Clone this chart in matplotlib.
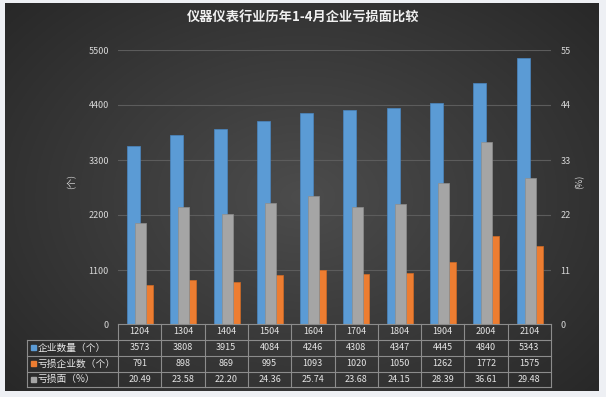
import numpy as np
import matplotlib
matplotlib.use("Agg")
import matplotlib.pyplot as plt
from matplotlib.patches import Rectangle
from matplotlib.lines import Line2D

plt.rcParams['font.family'] = ['Noto Sans CJK SC', 'DejaVu Sans']

title = "仪器仪表行业历年1-4月企业亏损面比较"
categories = ["1204", "1304", "1404", "1504", "1604", "1704", "1804", "1904", "2004", "2104"]
enterprises = [3573, 3808, 3915, 4084, 4246, 4308, 4347, 4445, 4840, 5343]
loss_enterprises = [791, 898, 869, 995, 1093, 1020, 1050, 1262, 1772, 1575]
loss_ratio = [20.49, 23.58, 22.20, 24.36, 25.74, 23.68, 24.15, 28.39, 36.61, 29.48]
ratio_labels = ["20.49", "23.58", "22.20", "24.36", "25.74", "23.68", "24.15", "28.39", "36.61", "29.48"]
series_names = ["企业数量（个）", "亏损企业数（个）", "亏损面（%）"]
left_ticks = [0, 1100, 2200, 3300, 4400, 5500]
right_ticks = [0, 11, 22, 33, 44, 55]

BLUE = "#5b9bd5"
ORANGE = "#ed7d31"
GRAY = "#a5a5a5"

W, H = 606, 397
fig = plt.figure(figsize=(W / 100, H / 100), dpi=100)
fig.patch.set_facecolor("#eef0f4")

def fx(px):
    return px / W

def fy(py):
    return 1 - py / H

# dark panel with radial gradient
px0, py0, px1, py1 = 5, 3, 599, 391
bg = fig.add_axes([fx(px0), fy(py1), fx(px1 - px0), (py1 - py0) / H])
bg.set_axis_off()
gx = np.linspace(-1, 1, 300)
gy = np.linspace(-1, 1, 200)
GX, GY = np.meshgrid(gx, gy)
R = np.clip(np.sqrt(GX ** 2 + (GY * 0.9) ** 2) / 1.35, 0, 1)
c_in = np.array([0x4c, 0x4c, 0x4c]) / 255
c_out = np.array([0x28, 0x28, 0x28]) / 255
img = c_in[None, None, :] * (1 - R[..., None]) + c_out[None, None, :] * R[..., None]
bg.imshow(img, aspect="auto", extent=[0, 1, 0, 1])

# main axes
ax_l, ax_r, ax_t, ax_b = 118, 551, 50, 325
ax = fig.add_axes([fx(ax_l), fy(ax_b), fx(ax_r - ax_l), (ax_b - ax_t) / H])
ax.set_facecolor("none")
ax2 = ax.twinx()
ax2.set_facecolor("none")

x = np.arange(len(categories))
ax.bar(x - 0.143, enterprises, 0.30, color=BLUE, edgecolor="#4a86c0", linewidth=0.5, zorder=3)
ax.bar(x + 0.227, loss_enterprises, 0.16, color=ORANGE, edgecolor="#d06a25", linewidth=0.5, zorder=3)
ax2.bar(x + 0.02, loss_ratio, 0.254, color=GRAY, edgecolor="#8e8e8e", linewidth=0.5, zorder=3)

ax.set_xlim(-0.5, len(categories) - 0.5)
ax.set_ylim(0, 5500)
ax2.set_ylim(0, 55)
ax.set_yticks(left_ticks)
ax2.set_yticks(right_ticks)
ax.set_xticks([])
for a in (ax, ax2):
    for s in a.spines.values():
        s.set_visible(False)
    a.tick_params(axis="y", length=0, colors="#d8d8d8", labelsize=6.5)
ax.tick_params(axis="y", pad=6.5)
ax2.tick_params(axis="y", pad=7)
ax.grid(axis="y", color="#5c5c5c", linewidth=0.8, zorder=0)
ax.set_axisbelow(True)

fig.text(fx(303), fy(18), title, color="#f0f0f0", fontsize=9.5, fontweight="bold",
         ha="center", va="center")
fig.text(fx(72), fy(182), "(个)", color="#d8d8d8", fontsize=6.5, rotation=90,
         ha="center", va="center")
fig.text(fx(580), fy(182), "(%)", color="#d8d8d8", fontsize=6.5, rotation=90,
         ha="center", va="center")

# data table
ov = fig.add_axes([0, 0, 1, 1])
ov.set_axis_off()
ov.set_xlim(0, W)
ov.set_ylim(H, 0)
ov.patch.set_alpha(0)

t_left, t_hdr = 27, 118
col_w = (ax_r - ax_l) / len(categories)
rows = [324, 339.5, 355.5, 371.5, 387]
lc = "#8c8c8c"
lw = 0.8
# horizontal lines
ov.plot([t_hdr, ax_r], [rows[0], rows[0]], color=lc, lw=lw)
for r in rows[1:]:
    ov.plot([t_left, ax_r], [r, r], color=lc, lw=lw)
# vertical lines
ov.plot([t_left, t_left], [rows[1], rows[-1]], color=lc, lw=lw)
for i in range(len(categories) + 1):
    xx = ax_l + i * col_w
    ov.plot([xx, xx], [rows[0], rows[-1]], color=lc, lw=lw)

tc = "#e6e6e6"
fs = 6.5
for i, c in enumerate(categories):
    cx = ax_l + (i + 0.5) * col_w
    ov.text(cx, (rows[0] + rows[1]) / 2, c, color=tc, fontsize=fs, ha="center", va="center")
    ov.text(cx, (rows[1] + rows[2]) / 2, str(enterprises[i]), color=tc, fontsize=fs, ha="center", va="center")
    ov.text(cx, (rows[2] + rows[3]) / 2, str(loss_enterprises[i]), color=tc, fontsize=fs, ha="center", va="center")
    ov.text(cx, (rows[3] + rows[4]) / 2, ratio_labels[i], color=tc, fontsize=fs, ha="center", va="center")

for j, (name, col) in enumerate(zip(series_names, [BLUE, ORANGE, GRAY])):
    cy = (rows[j + 1] + rows[j + 2]) / 2
    ov.add_patch(Rectangle((30.5, cy - 2.5), 5, 5, color=col))
    ov.text(38, cy, name, color=tc, fontsize=7, ha="left", va="center")

fig.savefig("out.png", dpi=100)
